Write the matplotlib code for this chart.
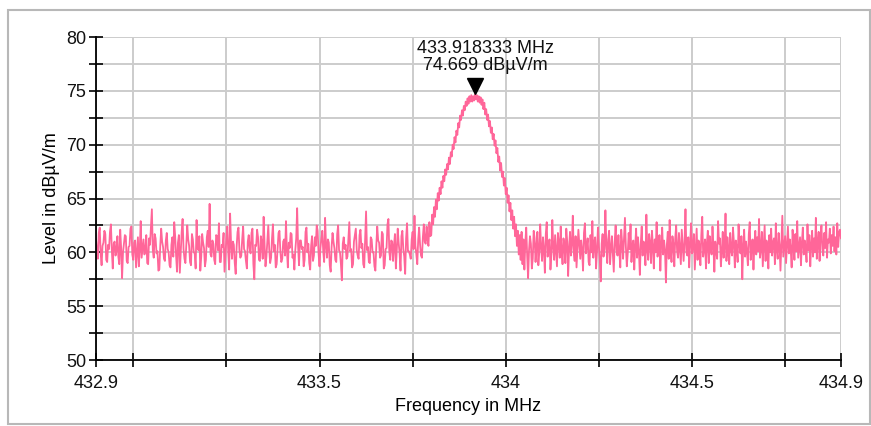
import matplotlib
matplotlib.use("Agg")
import matplotlib.pyplot as plt
import matplotlib.transforms as mtransforms
from matplotlib.patches import Rectangle
import numpy as np

plt.rcParams['font.family'] = ['Liberation Sans', 'DejaVu Sans']

f_start = 432.9
f_step = 0.0025
level = [
    # 432.9 .. 433.7975
    61.2, 60.1, 59.4, 61.8, 62.3, 59.9, 58.8, 60.6, 60.9, 62.0, 61.7, 59.3, 59.1, 60.7, 60.3, 61.9, 62.6, 60.2, 58.5, 60.8,
    61.0, 59.7, 60.2, 61.5, 59.6, 58.9, 62.1, 60.4, 57.6, 60.0, 60.8, 61.6, 61.5, 59.2, 59.0, 60.5, 60.6, 62.2, 62.4, 59.8,
    59.3, 60.9, 61.1, 58.6, 60.0, 61.4, 58.7, 60.3, 62.9, 59.5, 60.4, 61.2, 59.8, 60.1, 61.6, 59.0, 58.9, 61.3, 60.7, 62.3,
    64.0, 60.2, 59.5, 61.7, 61.3, 59.9, 60.1, 58.3, 58.4, 60.6, 62.2, 61.0, 60.5, 59.4, 59.2, 61.1, 61.8, 60.3, 60.0, 58.8,
    58.6, 60.7, 61.4, 59.6, 62.8, 61.5, 59.7, 58.2, 60.9, 61.6, 58.1, 59.9, 61.9, 63.1, 60.3, 59.4, 59.0, 60.8, 62.5, 61.2,
    60.6, 59.1, 58.8, 61.7, 61.2, 60.0, 59.9, 58.5, 63.0, 60.4, 60.2, 61.5, 58.3, 59.6, 61.7, 60.9, 60.4, 58.7, 59.3, 61.4,
    62.0, 60.5, 64.5, 59.8, 59.6, 61.1, 60.8, 59.3, 58.9, 61.6, 61.5, 60.2, 62.7, 59.1, 59.1, 60.7, 60.5, 61.8, 58.2, 59.7,
    61.3, 62.4, 60.0, 58.4, 63.6, 60.9, 59.4, 61.0, 60.7, 59.0, 58.0, 60.5, 61.9, 62.3, 60.2, 59.5, 59.7, 61.2, 62.4, 60.3,
    60.1, 59.2, 58.5, 61.0, 61.6, 60.4, 59.9, 61.8, 62.2, 58.9, 57.5, 60.7, 60.6, 62.1, 61.4, 59.3, 59.2, 61.5, 60.9, 59.4,
    63.3, 60.8, 58.7, 59.6, 61.0, 62.5, 60.3, 59.0, 59.5, 61.3, 62.6, 60.1, 60.7, 58.6, 58.9, 60.4, 61.8, 62.0, 60.0, 59.1,
    59.4, 61.0, 61.2, 59.7, 62.9, 60.2, 58.6, 60.9, 60.4, 61.8, 61.7, 59.5, 59.8, 58.4, 60.2, 61.3, 64.1, 60.6, 58.8, 61.1,
    61.1, 60.3, 60.5, 58.7, 59.3, 61.9, 62.3, 60.0, 60.8, 59.0, 58.4, 60.6, 61.5, 59.2, 59.7, 61.4, 60.6, 62.5, 62.0, 59.9,
    58.7, 60.4, 61.3, 62.0, 60.1, 59.1, 63.2, 60.7, 59.5, 61.2, 60.9, 58.8, 58.2, 60.5, 61.8, 61.0, 60.4, 59.3, 59.1, 61.7,
    62.5, 60.2, 60.0, 58.9, 57.4, 60.8, 61.4, 60.3, 60.7, 59.4, 59.6, 61.2, 62.8, 60.1, 60.3, 58.6, 58.9, 61.0, 61.6, 62.2,
    60.2, 59.7, 59.4, 61.6, 62.1, 60.4, 60.8, 58.9, 58.6, 61.3, 63.8, 60.2, 60.5, 59.1, 59.0, 61.4, 61.2, 60.0, 60.0, 58.7,
    58.3, 60.6, 62.4, 61.1, 60.9, 59.5, 59.7, 61.9, 61.7, 58.5, 58.8, 60.3, 60.4, 62.6, 63.1, 60.0, 59.3, 61.1, 61.0, 59.2,
    60.6, 61.7, 58.5, 60.2, 62.2, 60.9, 59.9, 58.3, 61.5, 62.0, 60.3, 59.6, 58.0, 61.3, 62.7, 60.1, 60.1, 59.8, 59.4, 61.2,
    61.9, 60.3, 63.4, 60.6, 59.8, 58.9, 61.2, 62.3, 60.7, 59.7, 59.5, 61.4, 62.6, 61.0, 60.8, 62.4, 61.2, 60.6, 62.8, 61.5,
    # 433.8 .. 434.05 (carrier)
    61.6, 63.5, 62.6, 64.2, 63.3, 64.9, 64.0, 65.5, 64.8, 66.0, 65.4, 66.6, 66.0, 67.1, 66.6, 67.7, 67.2, 68.2, 67.7, 68.8,
    68.2, 69.3, 68.9, 70.0, 69.6, 70.7, 70.2, 71.3, 70.9, 72.0, 71.6, 72.7, 72.3, 73.2, 72.7, 73.6, 73.2, 74.0, 73.6, 74.3,
    73.8, 74.5, 74.0, 74.6, 74.0, 74.5, 74.1, 74.7, 74.2, 74.6, 74.0, 74.5, 73.9, 74.4, 73.7, 74.2, 73.3, 73.9, 72.8, 73.3,
    72.3, 72.8, 71.7, 72.2, 71.1, 71.6, 70.5, 71.0, 69.9, 70.4, 69.2, 69.7, 68.4, 68.9, 67.6, 68.3, 67.0, 67.5, 66.2, 66.9,
    65.4, 66.0, 64.6, 65.3, 63.8, 64.6, 63.0, 63.9, 62.2, 63.3, 61.5, 62.6, 60.6, 62.0, 59.8, 61.6, 59.3, 61.9, 58.9, 61.2,
    58.4,
    # 434.0525 .. 434.9
    60.9, 62.3, 59.7, 57.6, 60.2, 61.5, 60.8, 58.5, 59.4, 62.0, 61.3, 59.1, 60.6, 61.9, 58.8, 60.0, 62.6, 60.4, 59.2, 61.4,
    60.3, 58.1, 61.7, 62.8, 59.6, 60.7, 61.2, 58.4, 59.8, 63.0, 60.5, 59.3, 61.6, 60.2, 58.7, 61.8, 60.9, 59.5, 62.4, 60.1,
    58.9, 61.3, 60.6, 59.0, 62.2, 61.0, 57.8, 60.4, 61.9, 59.7, 60.8, 63.4, 60.0, 59.2, 61.5, 58.6, 60.3, 62.1, 60.7, 59.4,
    61.1, 60.2, 58.3, 61.8, 62.7, 59.9, 60.5, 61.3, 59.1, 58.8, 61.6, 60.0, 62.9, 59.5, 60.9, 61.4, 58.5, 60.1, 62.3, 60.6,
    59.3, 57.3, 60.8, 61.7, 59.6, 60.3, 63.9, 60.7, 59.0, 61.2, 62.0, 58.9, 60.4, 61.5, 59.8, 58.2, 61.0, 62.5, 60.2, 59.7,
    61.6, 60.0, 58.6, 62.1, 60.9, 59.4, 61.3, 63.2, 60.5, 58.7, 59.9, 61.8, 60.3, 62.6, 59.1, 60.7, 61.1, 58.4, 60.6, 62.2,
    59.5, 61.4, 60.1, 57.9, 60.8, 62.4, 59.7, 61.0, 60.4, 58.8, 63.5, 60.2, 59.3, 61.7, 60.9, 59.0, 62.0, 60.6, 58.5, 61.2,
    60.0, 62.8, 59.6, 60.5, 61.6, 58.3, 60.9, 62.3, 59.8, 61.1, 60.2, 57.2, 60.7, 61.9, 59.4, 63.0, 60.3, 59.1, 61.5, 60.8,
    58.7, 61.3, 62.5, 60.1, 59.5, 61.8, 60.4, 58.9, 62.1, 60.6, 59.2, 61.0, 64.0, 60.0, 59.7, 61.4, 58.6, 60.8, 62.7, 59.9,
    60.5, 61.7, 58.4, 60.2, 62.2, 59.3, 61.1, 60.7, 58.8, 61.6, 63.3, 59.6, 60.3, 61.2, 58.5, 60.9, 62.0, 59.0, 61.5, 60.4,
    59.8, 62.4, 60.6, 58.2, 61.0, 60.1, 59.4, 62.9, 60.8, 61.3, 58.7, 60.0, 61.9, 59.5, 60.5, 63.6, 59.2, 61.4, 60.3, 58.9,
    61.8, 60.2, 59.7, 62.3, 60.9, 58.6, 61.1, 60.4, 59.1, 62.6, 60.7, 59.9, 61.5, 57.5, 60.6, 62.1, 59.6, 61.0, 60.0, 58.8,
    61.7, 62.8, 59.3, 60.5, 61.2, 58.4, 60.8, 62.0, 59.8, 61.4, 60.1, 63.1, 59.5, 60.3, 61.9, 58.7, 60.6, 62.5, 59.2, 61.1,
    60.4, 58.5, 61.6, 60.0, 62.2, 59.7, 60.9, 61.3, 58.9, 62.7, 60.2, 59.4, 61.8, 60.7, 58.3, 61.0, 63.4, 59.6, 60.5, 61.5,
    59.0, 60.8, 62.4, 59.9, 61.2, 60.3, 58.6, 62.1, 60.6, 59.3, 61.7, 60.1, 62.9, 59.5, 60.4, 61.4, 58.8, 60.9, 62.3, 59.8,
    61.1, 60.5, 59.1, 62.6, 60.2, 61.6, 58.7, 60.7, 62.0, 59.6, 61.3, 60.0, 63.2, 59.4, 60.8, 61.9, 59.2, 61.5, 62.5, 60.3,
    59.7, 61.8, 60.4, 62.8, 59.5, 61.2, 60.9, 62.2, 59.9, 61.6, 60.6, 62.4, 60.1, 61.4, 59.8, 62.7, 60.5, 61.9, 62.1, 61.3,
]
freq = f_start + f_step * np.arange(len(level))

peak_freq = 433.918333
peak_level = 74.669
peak_text = "433.918333 MHz\n74.669 dBµV/m"

x_ticks = [432.9, 433.0, 433.25, 433.5, 433.75, 434.0, 434.25, 434.5, 434.75, 434.9]
x_labels = ["432.9", "", "", "433.5", "", "434", "", "434.5", "", "434.9"]
y_ticks = [50, 52.5, 55, 57.5, 60, 62.5, 65, 67.5, 70, 72.5, 75, 77.5, 80]
y_labels = ["50", "", "55", "", "60", "", "65", "", "70", "", "75", "", "80"]

# === FIGURE ===
fig = plt.figure(figsize=(8.71, 4.26), dpi=100)
ax = fig.add_axes([96 / 871, 1 - 360 / 426, (841 - 96) / 871, (360 - 37) / 426])

# outer frame
fig.patches.append(Rectangle((8 / 871, 2 / 426), 862 / 871, 414 / 426,
                             transform=fig.transFigure, fill=False,
                             edgecolor='#b8b8b8', linewidth=1.5))

ax.plot(freq, level, color='#ff6699', linewidth=1.3, zorder=3)

ax.set_xlim(432.9, 434.9)
ax.set_ylim(50, 80)
ax.set_xticks(x_ticks)
ax.set_xticklabels(x_labels)
ax.set_yticks(y_ticks)
ax.set_yticklabels(y_labels)
ax.tick_params(direction='inout', length=10, width=1.2, color='black',
               labelsize=13, labelcolor='#111111')
ax.tick_params(axis='x', pad=6)
ax.tick_params(axis='y', pad=2)

ax.grid(True, color='#cccccc', linewidth=1.4, zorder=0)
ax.set_axisbelow(True)
for s in ['top', 'right']:
    ax.spines[s].set_visible(False)
for s in ['left', 'bottom']:
    ax.spines[s].set_linewidth(1.3)
    ax.spines[s].set_zorder(4)

ax.set_xlabel("Frequency in MHz", fontsize=13, labelpad=4)
ax.set_ylabel("Level in dBµV/m", fontsize=13, labelpad=4)

# peak marker
mk_trans = mtransforms.offset_copy(ax.transData, fig=fig, x=0, y=6, units='points')
ax.plot([peak_freq], [peak_level], marker='v', markersize=12, color='black',
        transform=mk_trans, zorder=5, clip_on=False)
ax.annotate(peak_text, xy=(peak_freq, peak_level), xytext=(7, 15),
            textcoords='offset points', ha='center', va='bottom',
            fontsize=13, linespacing=1.0, color='#111111')

fig.savefig("out.png", dpi=100)
